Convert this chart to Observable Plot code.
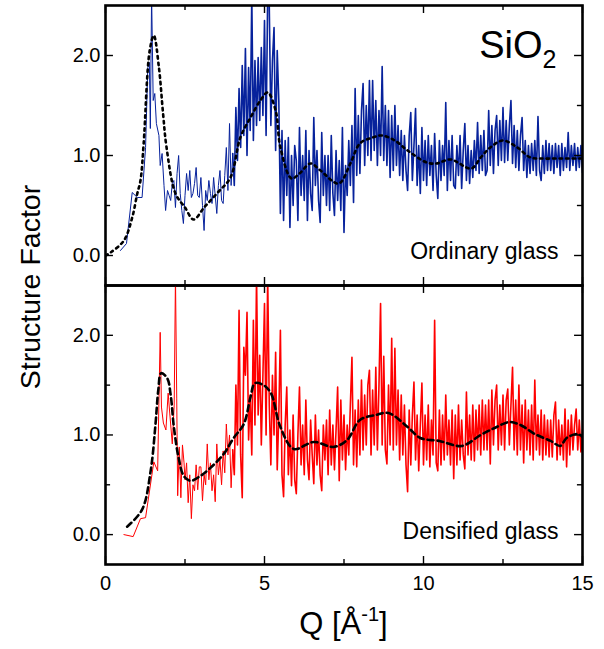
<!DOCTYPE html>
<html><head><meta charset="utf-8">
<script src="https://cdn.jsdelivr.net/npm/d3@7"></script>
<script src="https://cdn.jsdelivr.net/npm/@observablehq/plot@0.6"></script>
<style>
body{margin:0;background:#fff;font-family:"Liberation Sans",Arial,sans-serif;}
#fig{position:relative;width:604px;height:649px;overflow:hidden;background:#fff;}
#fig svg{position:absolute;left:0;}
.ttl{position:absolute;white-space:nowrap;color:#000;font-family:"Liberation Sans",Arial,sans-serif;line-height:1;}
</style></head><body><div id="fig"></div><script>
// ---- axes / ticks ----
const xMajor = [0, 5, 10, 15];
const xMinor = [2.5, 7.5, 12.5];
const yMajor = [0, 1, 2];
const yMinor = [0.5, 1.5];
const xDomain = [0, 15];
const yDomain = [-0.3, 2.5];
const yTitle = "Structure Factor";
const compound = ["SiO", "2"];
const panelLabels = ["Ordinary glass", "Densified glass"];

// ---- Ordinary glass: measured S(Q) ----
const ordLowQ = [0.47, 0.66, 0.84, 1.0, 1.15, 1.26, 1.33, 1.38, 1.41, 1.45, 1.5, 1.55, 1.6, 1.68, 1.72, 1.78, 1.84, 1.89, 1.95];
const ordLowS = [0.05, 0.12, 0.63, 0.58, 0.58, 1.08, 1.88, 1.93, 1.27, 2.6, 1.55, 1.62, 1.32, 1.2, 0.9, 1.02, 0.7, 0.45, 0.65];
const gridStep = 0.05;
const ordGridStart = 2.0;
const ordGridS = [
  0.6, 0.55, 0.72, 0.75, 0.48, 0.82, 1.0, 0.62, 0.45, 0.32, 0.6, 0.82, 0.65, 0.85, 0.58, 0.62, 0.72, 0.88, 0.6, 0.58,
  0.78, 0.5, 0.25, 0.65, 0.55, 0.75, 0.62, 0.52, 0.78, 0.6, 0.42, 0.7, 0.85, 0.55, 0.52, 0.8, 1.08, 0.65, 1.32, 0.7,
  1.02, 0.7, 1.48, 0.95, 1.67, 1.08, 1.9, 1.2, 2.07, 1.0, 1.88, 1.25, 2.6, 1.15, 1.95, 1.3, 1.98, 1.35, 2.08, 1.4,
  2.35, 1.2, 2.6, 2.5, 1.3, 1.95, 2.28, 1.05, 2.05, 1.55, 0.42, 1.25, 0.35, 1.15, 0.6, 1.18, 0.28, 1.0, 0.5, 1.1,
  0.95, 0.35, 1.28, 0.6, 1.0, 0.55, 1.25, 0.35, 1.05, 0.62, 0.45, 1.38, 0.7, 1.05, 0.55, 0.33, 1.23, 0.6, 1.0, 0.5,
  1.0, 0.45, 1.2, 0.62, 0.4, 1.05, 0.55, 0.95, 0.45, 1.28, 0.23, 0.9, 0.6, 1.15, 0.7, 1.3, 0.53, 1.67, 0.8, 1.4,
  0.82, 1.45, 1.72, 0.9, 1.5, 1.0, 1.75, 0.95, 1.75, 1.05, 1.55, 0.9, 1.45, 1.0, 1.89, 0.95, 1.5, 0.9, 1.45, 0.78,
  1.4, 0.85, 1.5, 0.9, 1.3, 0.8, 1.25, 0.75, 1.2, 0.85, 0.65, 1.2, 1.43, 0.75, 1.1, 1.47, 0.7, 1.1, 0.62, 1.28,
  0.75, 1.15, 0.7, 1.2, 0.8, 1.1, 0.65, 1.22, 0.8, 0.57, 1.15, 0.75, 1.1, 0.8, 1.53, 0.65, 1.15, 0.75, 1.2, 0.7,
  0.67, 1.1, 0.8, 1.2, 0.67, 1.05, 1.32, 0.75, 1.1, 0.72, 1.05, 0.78, 1.15, 0.85, 1.33, 0.82, 1.2, 0.85, 1.25, 0.8,
  0.85, 1.45, 0.9, 1.3, 0.82, 1.25, 1.4, 0.9, 1.35, 0.95, 1.48, 0.93, 1.35, 0.95, 1.3, 1.55, 0.92, 1.3, 0.88, 1.25,
  0.85, 1.2, 1.38, 0.85, 1.15, 0.78, 1.1, 0.82, 1.12, 0.85, 1.15, 0.8, 1.39, 0.85, 0.75, 1.1, 0.82, 1.15, 0.85, 1.12,
  0.85, 1.1, 0.82, 1.12, 0.88, 1.1, 0.8, 1.12, 0.85, 1.08, 0.88, 1.23, 0.85, 1.1, 0.9, 1.12, 0.85, 1.08, 0.88, 1.1, 0.83
];
// Ordinary glass: model curve (dotted)
const ordFitQ = [0, 0.16, 0.58, 0.84, 1.0, 1.1, 1.2, 1.39, 1.52, 1.68, 1.81, 1.92, 2.2, 2.5, 2.77, 3.1, 3.5, 3.93, 4.24, 4.56, 4.87, 5.1, 5.35, 5.5, 5.85, 6.1, 6.45, 6.76, 7.33, 7.7, 8.0, 8.4, 8.7, 9.1, 9.5, 10.1, 10.4, 10.85, 11.5, 11.8, 12.1, 12.5, 12.95, 13.36, 13.7, 14.3, 15];
const ordFitS = [0, 0.03, 0.15, 0.38, 0.62, 0.75, 1.12, 2.05, 2.2, 1.88, 1.42, 1.08, 0.62, 0.48, 0.36, 0.48, 0.62, 0.78, 1.18, 1.38, 1.55, 1.63, 1.45, 1.08, 0.77, 0.82, 0.92, 0.85, 0.72, 0.92, 1.12, 1.18, 1.2, 1.15, 1.05, 0.93, 0.92, 0.96, 0.87, 0.98, 1.08, 1.15, 1.08, 0.98, 0.97, 0.97, 0.97];

// ---- Densified glass: measured S(Q) ----
const denLowQ = [0.58, 0.87, 1.1, 1.26, 1.52, 1.64, 1.72, 1.76, 1.82, 1.9, 1.97, 2.02, 2.1, 2.16, 2.2, 2.24, 2.27, 2.32, 2.37, 2.42, 2.47];
const denLowS = [0.0, -0.02, 0.16, 0.17, 0.73, 0.64, 2.03, 1.28, 1.12, 1.05, 1.42, 1.22, 0.91, 1.3, 2.6, 1.37, 0.39, 0.88, 0.37, 0.9, 0.72];
const denGridStart = 2.5;
const denGridS = [
  0.55, 0.72, 0.32, 0.6, 0.16, 0.5, 0.44, 0.7, 0.45, 0.68,
  0.68, 0.34, 0.6, 0.5, 0.91, 0.55, 0.72, 0.44, 0.6, 0.33, 0.91, 0.6, 0.75, 0.5, 0.84, 0.62, 1.11, 0.8, 1.0, 0.47,
  0.85, 0.6, 1.5, 0.9, 2.25, 0.8, 0.37, 1.88, 1.6, 2.23, 0.95, 1.4, 0.8, 2.15, 1.1, 2.6, 1.2, 1.8, 0.9, 1.6,
  2.32, 1.0, 2.6, 1.3, 0.7, 1.6, 1.0, 1.83, 0.65, 1.2, 2.05, 0.6, 0.38, 1.1, 1.48, 0.6, 1.05, 0.49, 1.2, 0.55,
  0.41, 1.0, 1.48, 0.7, 1.1, 0.6, 1.35, 0.75, 0.55, 1.15, 0.8, 0.51, 1.2, 0.7, 1.05, 0.6, 0.44, 1.1, 0.75, 1.15,
  0.6, 1.25, 0.7, 1.1, 0.65, 1.05, 1.48, 0.54, 1.35, 0.75, 1.2, 0.65, 1.1, 0.8, 1.3, 1.78, 0.7, 1.25, 0.68, 1.35,
  0.8, 1.55, 0.85, 1.4, 0.9, 1.5, 1.65, 0.8, 1.45, 0.9, 1.68, 0.85, 1.5, 2.32, 0.9, 1.79, 0.85, 0.71, 1.5, 0.9,
  1.97, 0.85, 1.87, 0.9, 1.45, 0.75, 1.4, 0.8, 1.3, 0.7, 0.43, 1.25, 0.7, 1.2, 1.53, 0.75, 1.2, 0.64, 1.1, 1.52,
  0.7, 1.2, 0.75, 1.3, 0.68, 1.15, 0.8, 2.15, 0.72, 0.64, 1.25, 0.7, 1.2, 0.75, 1.4, 0.8, 1.15, 0.7, 1.25, 0.56,
  1.2, 0.7, 1.3, 0.75, 1.15, 0.8, 0.66, 1.43, 0.8, 1.2, 0.75, 1.3, 0.74, 1.25, 0.85, 1.3, 0.8, 1.35, 0.85, 1.3,
  0.85, 1.35, 0.71, 1.45, 0.9, 1.35, 1.5, 0.85, 1.3, 0.9, 1.4, 0.85, 1.35, 1.46, 0.9, 1.3, 1.68, 0.85, 1.35, 0.8,
  1.5, 0.85, 1.3, 0.72, 1.35, 0.85, 1.25, 0.8, 1.3, 0.75, 1.55, 0.85, 1.2, 0.8, 1.25, 0.75, 1.2, 0.8, 1.15, 0.78,
  1.15, 0.78, 1.2, 1.33, 0.75, 1.15, 0.8, 1.1, 0.75, 1.26, 0.68, 1.15, 0.8, 1.2, 0.85, 1.1, 1.26, 0.85, 1.15, 0.83, 1.05
];
// Densified glass: model curve (dashed)
const denFitQ = [0.68, 1.15, 1.42, 1.57, 1.66, 1.75, 1.94, 2.05, 2.15, 2.3, 2.46, 2.67, 2.99, 3.3, 3.72, 4.03, 4.35, 4.56, 4.7, 4.97, 5.2, 5.5, 5.92, 6.55, 7.17, 7.6, 8.0, 8.5, 8.9, 9.5, 9.9, 10.5, 11.2, 11.8, 12.3, 12.7, 13.05, 13.5, 14.0, 14.3, 14.5, 14.85, 15];
const denFitS = [0.08, 0.25, 0.64, 1.1, 1.45, 1.62, 1.57, 1.4, 1.08, 0.77, 0.59, 0.54, 0.59, 0.67, 0.81, 0.97, 1.11, 1.38, 1.52, 1.5, 1.42, 1.08, 0.86, 0.93, 0.88, 0.95, 1.15, 1.2, 1.22, 1.08, 0.97, 0.94, 0.89, 1.0, 1.08, 1.13, 1.1, 1.01, 0.94, 0.89, 0.97, 1.01, 0.98];

function series(lowQ, lowS, start, gridS) {
  const pts = lowQ.map((q, i) => ({q, s: lowS[i]}));
  gridS.forEach((s, i) => pts.push({q: +(start + i * gridStep).toFixed(2), s}));
  return pts;
}
const pairs = (Q, S) => Q.map((q, i) => ({q, s: S[i]}));

const ordData = series(ordLowQ, ordLowS, ordGridStart, ordGridS);
const denData = series(denLowQ, denLowS, denGridStart, denGridS);
const ordFit = pairs(ordFitQ, ordFitS);
const denFit = pairs(denFitQ, denFitS);
const denseFrom = 4.0; // densely sampled region drawn a bit heavier

const FONT = '"Liberation Sans", Arial, Helvetica, sans-serif';

function tickMarks() {
  const [y0, y1] = yDomain, [x0, x1] = xDomain;
  const ty = 0.08, tyMinor = 0.05, tx = 0.25, txMinor = 0.16;
  const st = {stroke: "black", strokeWidth: 1.4};
  return [
    Plot.ruleX(xMajor, {x: d => d, y1: y0, y2: y0 + ty, ...st}),
    Plot.ruleX(xMajor, {x: d => d, y1: y1, y2: y1 - ty, ...st}),
    Plot.ruleX(xMinor, {x: d => d, y1: y0, y2: y0 + tyMinor, ...st}),
    Plot.ruleX(xMinor, {x: d => d, y1: y1, y2: y1 - tyMinor, ...st}),
    Plot.ruleY(yMajor, {y: d => d, x1: x0, x2: x0 + tx, ...st}),
    Plot.ruleY(yMajor, {y: d => d, x1: x1, x2: x1 - tx, ...st}),
    Plot.ruleY(yMinor, {y: d => d, x1: x0, x2: x0 + txMinor, ...st}),
    Plot.ruleY(yMinor, {y: d => d, x1: x1, x2: x1 - txMinor, ...st})
  ];
}

function panel({data, fit, color, dash, label, labelDy, height, marginBottom, xAxis, extra = []}) {
  return Plot.plot({
    width: 604, height,
    marginLeft: 105, marginRight: 22, marginTop: 5, marginBottom,
    x: {domain: xDomain, axis: null},
    y: {domain: yDomain, axis: null},
    style: {background: "none", overflow: "visible", fontFamily: FONT, color: "black"},
    marks: [
      Plot.line(data.filter(d => d.q <= denseFrom), {x: "q", y: "s", stroke: color, strokeWidth: 1, clip: true}),
      Plot.line(data.filter(d => d.q >= denseFrom), {x: "q", y: "s", stroke: color, strokeWidth: 1.6, clip: true}),
      Plot.line(fit, {x: "q", y: "s", stroke: "black", strokeWidth: 2.6, strokeDasharray: dash, curve: "catmull-rom", clip: true}),
      ...tickMarks(),
      Plot.frame({stroke: "black", strokeWidth: 2.6}),
      Plot.axisY({ticks: yMajor, tickSize: 0, tickPadding: 5, tickFormat: d3.format(".1f"), fontSize: 20, label: null}),
      ...(xAxis ? [Plot.axisX({ticks: xMajor, tickSize: 0, tickPadding: 11, tickFormat: d => String(d), fontSize: 20, label: null})] : []),
      Plot.text([label], {text: d => d, frameAnchor: "bottom-right", dx: -24, dy: labelDy, textAnchor: "end", lineAnchor: "bottom", fontSize: 23, fill: "black"}),
      ...extra
    ]
  });
}

const fig = document.getElementById("fig");
const topChart = panel({
  data: ordData, fit: ordFit, color: "#07229c", dash: "2.5,4", label: panelLabels[0], labelDy: -27,
  height: 290, marginBottom: 5, xAxis: false,
  extra: [
    Plot.text([compound[0]], {text: d => d, frameAnchor: "top-right", dx: -40, dy: 52, textAnchor: "end", lineAnchor: "bottom", fontSize: 38, fill: "black"}),
    Plot.text([compound[1]], {text: d => d, frameAnchor: "top-right", dx: -40, dy: 62, textAnchor: "start", lineAnchor: "bottom", fontSize: 25, fill: "black"})
  ]
});
topChart.style.top = "0px";
const bottomChart = panel({
  data: denData, fit: denFit, color: "#ff0000", dash: "6,4", label: panelLabels[1], labelDy: -26,
  height: 369, marginBottom: 85, xAxis: true
});
bottomChart.style.top = "280px";
fig.appendChild(topChart);
fig.appendChild(bottomChart);

const yl = document.createElement("div");
yl.className = "ttl";
yl.textContent = yTitle;
Object.assign(yl.style, {left: "30px", top: "287px", fontSize: "28.5px", transform: "translate(-50%,-50%) rotate(-90deg)"});
fig.appendChild(yl);

const xl = document.createElement("div");
xl.className = "ttl";
xl.innerHTML = 'Q [Å<sup style="font-size:20px;vertical-align:0;position:relative;top:-13px;">-1</sup>]';
Object.assign(xl.style, {left: "105px", width: "477px", textAlign: "center", top: "608px", fontSize: "31px"});
fig.appendChild(xl);
</script></body></html>
